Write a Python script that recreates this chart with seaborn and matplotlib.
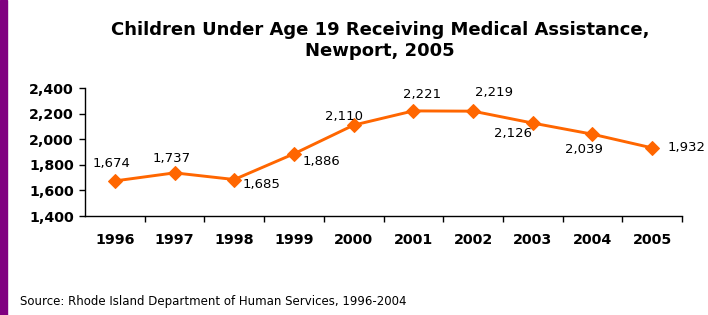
import matplotlib
matplotlib.use("Agg")
import matplotlib.pyplot as plt
import matplotlib.patches as patches
from matplotlib.ticker import FuncFormatter, FixedLocator
import seaborn as sns
import pandas as pd

years = ["1996", "1997", "1998", "1999", "2000", "2001", "2002", "2003", "2004", "2005"]
children = [1674, 1737, 1685, 1886, 2110, 2221, 2219, 2126, 2039, 1932]
# label offsets from each point, in pixels (dx right, dy up)
label_off = [(-3, 17), (-3, 14), (27, -5), (27, -8), (-10, 9),
             (9, 16), (21, 19), (-20, -10), (-9, -15), (34, 0)]

sns.set_style("white")
plt.rcParams["font.family"] = ["DejaVu Sans"]
plt.rcParams["text.color"] = "black"
plt.rcParams["xtick.color"] = "black"
plt.rcParams["ytick.color"] = "black"

df = pd.DataFrame({"idx": range(len(years)), "year": years, "count": children})

fig = plt.figure(figsize=(7.08, 3.15), dpi=100)
fig.patches.append(patches.Rectangle((0, 0), 7 / 708, 1, transform=fig.transFigure,
                                     color="#800080", zorder=0))
ax = fig.add_axes([85 / 708, 1 - 216 / 315, 597 / 708, 128 / 315])

sns.lineplot(data=df, x="idx", y="count", ax=ax, color="#FF6600", linewidth=2.1,
             marker="D", markersize=7.5, markeredgecolor="#FF6600")

for i, (v, (dx, dy)) in enumerate(zip(children, label_off)):
    ax.annotate(f"{v:,}", (i, v), xytext=(dx, dy), textcoords="offset pixels",
                ha="center", va="center", fontsize=9.5, color="black")

ax.set_xlim(-0.5, len(years) - 0.5)
ax.set_ylim(1400, 2400)
ax.set_yticks(range(1400, 2401, 200))
ax.yaxis.set_major_formatter(FuncFormatter(lambda v, p: f"{int(v):,}"))
ax.set_xticks(range(len(years)))
ax.set_xticklabels(years)
ax.xaxis.set_minor_locator(FixedLocator([i + 0.5 for i in range(len(years))]))
ax.tick_params(axis="x", which="major", length=0, pad=12, labelsize=10.3)
ax.tick_params(axis="x", which="minor", length=4, width=1, direction="out", bottom=True)
ax.tick_params(axis="y", length=4, width=1, direction="out", left=True, labelsize=10.2, pad=4)
for lab in ax.get_xticklabels() + ax.get_yticklabels():
    lab.set_fontweight("bold")
for s in ["top", "right"]:
    ax.spines[s].set_visible(False)
for s in ["left", "bottom"]:
    ax.spines[s].set_color("black")
    ax.spines[s].set_linewidth(1)
ax.set_xlabel("")
ax.set_ylabel("")

fig.text(380 / 708, 1 - 30 / 315, "Children Under Age 19 Receiving Medical Assistance,",
         ha="center", va="center", fontsize=13, fontweight="bold")
fig.text(380 / 708, 1 - 51 / 315, "Newport, 2005",
         ha="center", va="center", fontsize=13, fontweight="bold")
fig.text(20 / 708, 1 - 302 / 315, "Source: Rhode Island Department of Human Services, 1996-2004",
         ha="left", va="center", fontsize=8.5)

fig.savefig("out.png", dpi=100)
